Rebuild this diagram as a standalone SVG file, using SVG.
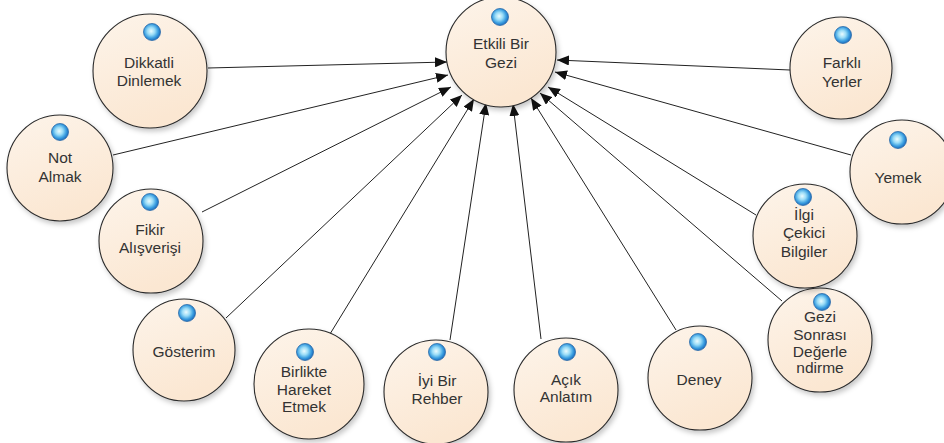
<svg xmlns="http://www.w3.org/2000/svg" width="944" height="443" viewBox="0 0 944 443">
  <style>
    .node { fill: url(#nodeFill); stroke: #2b2b2b; stroke-width: 1.1; filter: url(#shadow); }
    .dot { fill: url(#dotFill); stroke: #2a6aa8; stroke-width: 0.8; }
    .label { font-family: "Liberation Sans", Arial, sans-serif; font-size: 15.5px; fill: #333; text-anchor: middle; }
    .edge { stroke: #222; stroke-width: 1; fill: none; marker-end: url(#arrow); }
  </style>
  <defs>
    <linearGradient id="nodeFill" x1="0" y1="0" x2="0.4" y2="1">
      <stop offset="0" stop-color="#fdf4ea"/>
      <stop offset="1" stop-color="#fbe7d2"/>
    </linearGradient>
    <radialGradient id="dotFill" cx="0.45" cy="0.45" r="0.55">
      <stop offset="0" stop-color="#eafcff"/>
      <stop offset="0.4" stop-color="#9adcf7"/>
      <stop offset="0.75" stop-color="#3a9ee0"/>
      <stop offset="1" stop-color="#1f6fbf"/>
    </radialGradient>
    <filter id="shadow" x="-20%" y="-20%" width="150%" height="150%">
      <feDropShadow dx="2" dy="3" stdDeviation="2.5" flood-color="#000" flood-opacity="0.22"/>
    </filter>
    <marker id="arrow" markerUnits="userSpaceOnUse" markerWidth="12" markerHeight="10" viewBox="0 0 12 10" refX="12" refY="5" orient="auto">
      <path d="M0,0 L12,5 L0,10 Z" fill="#111"/>
    </marker>
  </defs>

  <g id="connectors">
    <line class="edge" x1="208" y1="68" x2="447" y2="62"/>
    <line class="edge" x1="113" y1="155" x2="448" y2="75"/>
    <line class="edge" x1="202" y1="212" x2="451" y2="87"/>
    <line class="edge" x1="226" y1="318" x2="462" y2="95"/>
    <line class="edge" x1="330" y1="334" x2="474" y2="99"/>
    <line class="edge" x1="450" y1="340" x2="486" y2="103"/>
    <line class="edge" x1="541" y1="339" x2="513" y2="104"/>
    <line class="edge" x1="676" y1="330" x2="531" y2="98"/>
    <line class="edge" x1="782" y1="301" x2="540" y2="93"/>
    <line class="edge" x1="756" y1="215" x2="548" y2="87"/>
    <line class="edge" x1="851" y1="155" x2="555" y2="72"/>
    <line class="edge" x1="790" y1="70" x2="557" y2="60"/>
  </g>

  <g id="etkili-bir-gezi">
    <circle class="node" cx="501" cy="52" r="55"/>
    <circle class="dot" cx="500" cy="17" r="8.5"/>
    <text class="label" x="501" y="49">Etkili Bir</text>
    <text class="label" x="501" y="68">Gezi</text>
  </g>

  <g id="dikkatli-dinlemek">
    <circle class="node" cx="150" cy="71" r="57"/>
    <circle class="dot" cx="152" cy="32" r="8.5"/>
    <text class="label" x="149" y="68">Dikkatli</text>
    <text class="label" x="149" y="86">Dinlemek</text>
  </g>

  <g id="not-almak">
    <circle class="node" cx="60" cy="168" r="53"/>
    <circle class="dot" cx="60" cy="132" r="8.5"/>
    <text class="label" x="60" y="163">Not</text>
    <text class="label" x="60" y="182">Almak</text>
  </g>

  <g id="fikir-alisverisi">
    <circle class="node" cx="151" cy="241" r="52"/>
    <circle class="dot" cx="150" cy="202" r="8.5"/>
    <text class="label" x="150" y="235">Fikir</text>
    <text class="label" x="150" y="253">Alışverişi</text>
  </g>

  <g id="gosterim">
    <circle class="node" cx="184" cy="350" r="51"/>
    <circle class="dot" cx="187" cy="313" r="8.5"/>
    <text class="label" x="184" y="357">Gösterim</text>
  </g>

  <g id="birlikte-hareket-etmek">
    <circle class="node" cx="309" cy="384" r="55"/>
    <circle class="dot" cx="305" cy="352" r="8.5"/>
    <text class="label" x="304" y="377">Birlikte</text>
    <text class="label" x="304" y="395">Hareket</text>
    <text class="label" x="304" y="412">Etmek</text>
  </g>

  <g id="iyi-bir-rehber">
    <circle class="node" cx="436" cy="392" r="52"/>
    <circle class="dot" cx="437" cy="352" r="8.5"/>
    <text class="label" x="437" y="386">İyi Bir</text>
    <text class="label" x="437" y="404">Rehber</text>
  </g>

  <g id="acik-anlatim">
    <circle class="node" cx="566" cy="390" r="52"/>
    <circle class="dot" cx="567" cy="352" r="8.5"/>
    <text class="label" x="566" y="385">Açık</text>
    <text class="label" x="566" y="402">Anlatım</text>
  </g>

  <g id="deney">
    <circle class="node" cx="700" cy="378" r="52"/>
    <circle class="dot" cx="698" cy="342" r="8.5"/>
    <text class="label" x="699" y="385">Deney</text>
  </g>

  <g id="gezi-sonrasi-degerlendirme">
    <circle class="node" cx="820" cy="340" r="52"/>
    <circle class="dot" cx="822" cy="302" r="8.5"/>
    <text class="label" x="820" y="322">Gezi</text>
    <text class="label" x="820" y="340">Sonrası</text>
    <text class="label" x="820" y="357">Değerle</text>
    <text class="label" x="820" y="373">ndirme</text>
  </g>

  <g id="ilgi-cekici-bilgiler">
    <circle class="node" cx="805" cy="236" r="52"/>
    <circle class="dot" cx="803" cy="197" r="8.5"/>
    <text class="label" x="804" y="220">İlgi</text>
    <text class="label" x="804" y="238">Çekici</text>
    <text class="label" x="804" y="257">Bilgiler</text>
  </g>

  <g id="farkli-yerler">
    <circle class="node" cx="841" cy="68" r="51"/>
    <circle class="dot" cx="843" cy="35" r="8.5"/>
    <text class="label" x="842" y="68">Farklı</text>
    <text class="label" x="842" y="87">Yerler</text>
  </g>

  <g id="yemek">
    <circle class="node" cx="902" cy="172" r="52"/>
    <circle class="dot" cx="898" cy="140" r="8.5"/>
    <text class="label" x="898" y="183">Yemek</text>
  </g>
</svg>
